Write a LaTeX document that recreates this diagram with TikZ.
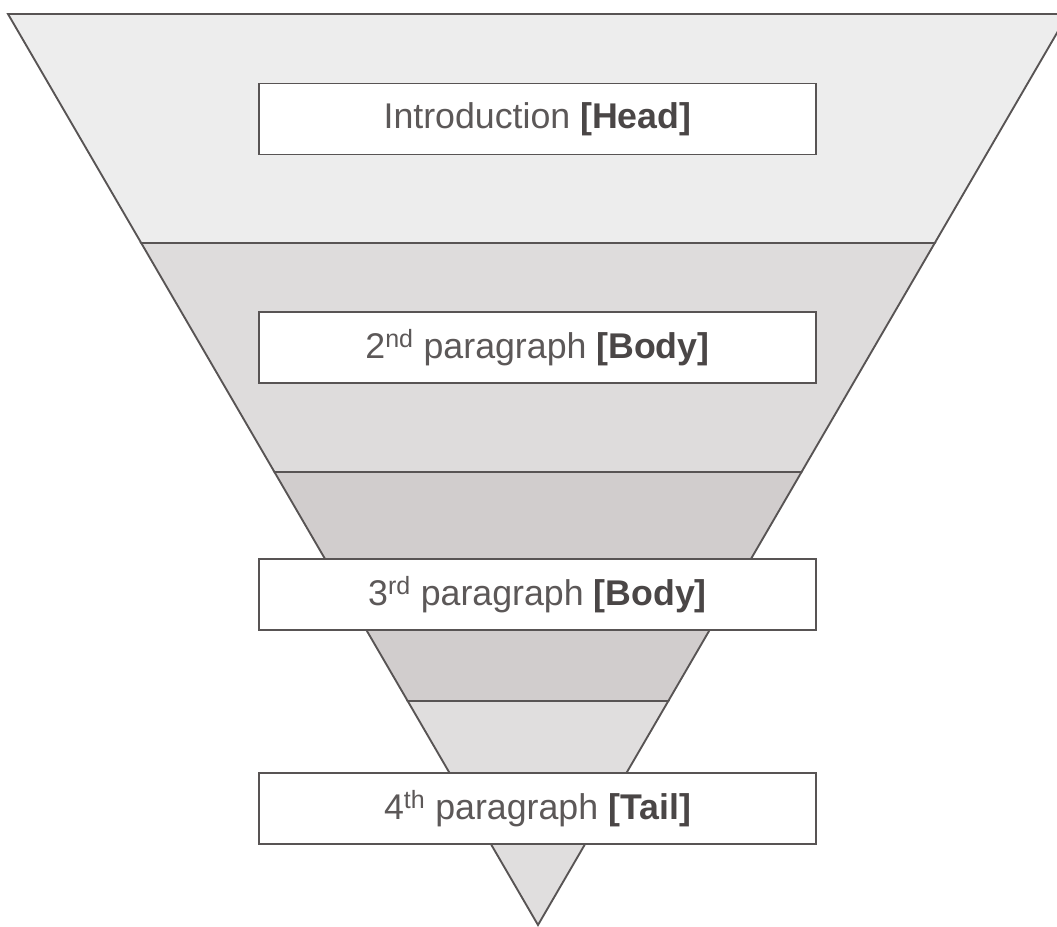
\documentclass[tikz,border=0pt]{standalone}
\usepackage{fontspec}
\setmainfont{Liberation Sans}
\usepackage{tikz}
\usetikzlibrary{calc}
\definecolor{lineG}{RGB}{88,84,84}
\definecolor{textG}{RGB}{92,88,88}
\definecolor{boldG}{RGB}{74,70,70}
\definecolor{bandA}{RGB}{237,237,237}
\definecolor{bandB}{RGB}{222,220,220}
\definecolor{bandC}{RGB}{209,205,205}
\definecolor{bandD}{RGB}{224,222,222}
\tikzset{band/.style={draw=lineG, line width=1.6pt, line join=miter},
  partbox/.style={draw=lineG, line width=1.6pt, fill=white, minimum width=16.71cm, minimum height=2.13cm,
  inner sep=0pt, text=textG, font=\fontsize{30.5}{36}\selectfont}}
\newcommand{\tag}[1]{\textcolor{boldG}{\bfseries[#1]}}

\begin{document}
\begin{tikzpicture}[x=0.03cm, y=-0.03cm]
\useasboundingbox (0,0) rectangle (1057,927);
\clip (0,0) rectangle (1057,927);
% corners of the funnel
\coordinate (tl) at (8,14);
\coordinate (tr) at (1068,14);
\coordinate (ap) at (538,925);
% band edges
\coordinate (l1) at ($(tl)!0.2514!(ap)$);
\coordinate (r1) at ($(tr)!0.2514!(ap)$);
\coordinate (l2) at ($(tl)!0.5027!(ap)$);
\coordinate (r2) at ($(tr)!0.5027!(ap)$);
\coordinate (l3) at ($(tl)!0.7541!(ap)$);
\coordinate (r3) at ($(tr)!0.7541!(ap)$);
% the four bands
\draw[band, fill=bandA] (tl) -- (tr) -- (r1) -- (l1) -- cycle;
\draw[band, fill=bandB] (l1) -- (r1) -- (r2) -- (l2) -- cycle;
\draw[band, fill=bandC] (l2) -- (r2) -- (r3) -- (l3) -- cycle;
\draw[band, fill=bandD] (l3) -- (r3) -- (ap) -- cycle;
% labels
\node[partbox] (head) at (537.5,119) {Introduction \tag{Head}};
\node[partbox] (body2) at (537.5,347.5) {2\textsuperscript{nd} paragraph \tag{Body}};
\node[partbox] (body3) at (537.5,594.5) {3\textsuperscript{rd} paragraph \tag{Body}};
\node[partbox] (tail) at (537.5,808.5) {4\textsuperscript{th} paragraph \tag{Tail}};
\end{tikzpicture}
\end{document}
